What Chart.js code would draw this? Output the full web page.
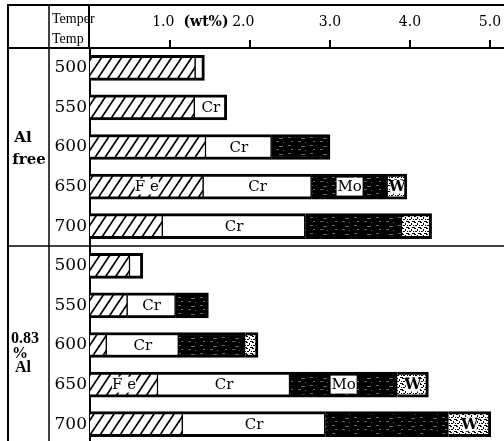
<!DOCTYPE html>
<html><head><meta charset="utf-8">
<script src="https://cdn.jsdelivr.net/npm/chart.js@4.4.0/dist/chart.umd.min.js"></script>
<style>html,body{margin:0;padding:0;overflow:hidden;background:#fff;width:504px;height:441px}
#wrap{position:relative;width:504px;height:444px}</style>
</head><body><div id="wrap"><canvas id="c" width="504" height="444"></canvas></div>
<script>
const temps = ['500','550','600','650','700','500','550','600','650','700'];
const groupLabels = [['Al','free'],['0.83','%','Al']];
const tickValues = [1,2,3,4,5];
const tickLabels = ['1.0   ','2.0   ','3.0','4.0','5.0'];
const feVals = [1.32, 1.31, 1.45, 1.42, 0.91, 0.50, 0.47, 0.21, 0.85, 1.16];
const crVals = [0.11, 0.40, 0.82, 1.35, 1.78, 0.16, 0.60, 0.90, 1.65, 1.78];
const moVals = [0, 0, 0.73, 0.95, 1.21, 0, 0.41, 0.83, 1.34, 1.54];
const wVals  = [0, 0, 0, 0.24, 0.37, 0, 0, 0.16, 0.39, 0.53];
const feLabels = ['', '', '', 'Fe', '', '', '', '', 'Fe', ''];
const crLabels = ['', 'Cr', 'Cr', 'Cr', 'Cr', '', 'Cr', 'Cr', 'Cr', 'Cr'];
const moLabels = ['', '', '', 'Mo', '', '', '', '', 'Mo', ''];
const wLabels  = ['', '', '', 'W', '', '', '', '', 'W', 'W'];

function mk(w,h){const c=document.createElement('canvas');c.width=w;c.height=h;return c;}
function hatchPattern(ctx){
  const c=mk(10,15),g=c.getContext('2d');
  g.fillStyle='#fff';g.fillRect(0,0,10,15);
  g.strokeStyle='#000';g.lineWidth=1.7;
  for(const dx of [-10,0,10]){g.beginPath();g.moveTo(dx-1.33,17);g.lineTo(dx+11.33,-2);g.stroke();}
  return ctx.createPattern(c,'repeat');
}
function moPattern(ctx){
  const c=mk(22,8),g=c.getContext('2d');
  g.fillStyle='#000';g.fillRect(0,0,22,8);
  g.fillStyle='#666';
  [[2,1,3,1],[15,2,4,1],[5,5,2,1],[12,5,3,1],[19,6,1,1]].forEach(r=>g.fillRect(...r));
  return ctx.createPattern(c,'repeat');
}
function wPattern(ctx){
  const c=mk(6,6),g=c.getContext('2d');
  g.fillStyle='#fff';g.fillRect(0,0,6,6);
  g.fillStyle='#000';
  [[0,0,2,1],[3,1,1,2],[5,3,1,1],[1,3,2,1],[4,5,2,1],[0,5,1,1]].forEach(r=>g.fillRect(...r));
  return ctx.createPattern(c,'repeat');
}
const canvas=document.getElementById('c');
const cx=canvas.getContext('2d');
const allVals=[feVals,crVals,moVals,wVals];
const nz=a=>a.map(v=>v>0?v:null);
function bw(ctx){
  const i=ctx.dataIndex,d=ctx.datasetIndex;
  let last=true;
  for(let k=d+1;k<4;k++) if(allVals[k][i]>0) last=false;
  return {top:3,bottom:3,left:0,right:last?3:1.5};
}
const common={borderColor:'#000',borderWidth:bw,borderSkipped:false,barThickness:25};

const decor={
  id:'decor',
  afterDatasetsDraw(chart){
    const g=chart.ctx;
    const sets=[feLabels,crLabels,moLabels,wLabels];
    g.save();
    g.textAlign='center';g.textBaseline='middle';
    sets.forEach((lab,d)=>{
      const meta=chart.getDatasetMeta(d);
      meta.data.forEach((el,i)=>{
        const t=lab[i]; if(!t) return;
        const p=el.getProps(['x','y','base'],true);
        const mx=(p.x+p.base)/2, my=p.y;
        if(d===0){g.fillStyle='#fff';g.fillRect(mx-12,my-8,24,16);g.fillStyle='#000';g.font='15px "DejaVu Serif"';g.fillText('F e',mx,my+1);}
        else if(d===1){g.fillStyle='#000';g.font='15px "DejaVu Serif"';g.fillText('Cr',mx,my+1);}
        else if(d===2){g.fillStyle='#fff';g.fillRect(mx-13,my-9,26,18);g.fillStyle='#000';g.font='15px "DejaVu Serif"';g.fillText('Mo',mx,my+1);}
        else {g.fillStyle='#fff';g.fillRect(mx-7,my-7,14,14);g.fillStyle='#000';g.font='bold 15px "DejaVu Serif"';g.fillText('W',mx,my+1);}
      });
    });
    g.restore();
  },
  afterDraw(chart){
    const g=chart.ctx;
    g.save();
    g.strokeStyle='#000';
    const line=(x1,y1,x2,y2,w)=>{g.lineWidth=w;g.beginPath();g.moveTo(x1,y1);g.lineTo(x2,y2);g.stroke();};
    line(7,5,504,5,2);
    line(8,4,8,444,2);
    line(49,5,49,444,1.5);
    line(89,5,89,48,2);
    line(8,48,90,48,2);
    const yb=chart.scales.y;
    const sep=(yb.getPixelForValue(4)+yb.getPixelForValue(5))/2;
    line(8,sep,504,sep,1.5);
    g.fillStyle='#000';
    g.textBaseline='middle';g.textAlign='left';
    g.font='14px "Liberation Serif"';
    g.fillText('Temper',52,19);
    g.fillText('Temp',52,39);
    g.textAlign='center';
    g.font='bold 14px "DejaVu Serif"';
    g.fillText('(wt%)',206,22);
    const c1=(yb.getPixelForValue(0)+yb.getPixelForValue(4))/2;
    g.font='bold 15px "DejaVu Serif"';
    g.fillText(groupLabels[0][0],23,c1-9);
    g.fillText(groupLabels[0][1],29,c1+13);
    const c2=(yb.getPixelForValue(5)+yb.getPixelForValue(9))/2;
    g.font='bold 16px "Liberation Serif"';
    g.fillText(groupLabels[1][0],25,c2-6);
    g.fillText(groupLabels[1][1],20,c2+9);
    g.fillText(groupLabels[1][2],23,c2+23);
    g.restore();
  }
};

new Chart(canvas,{
  type:'bar',
  data:{labels:temps,datasets:[
    Object.assign({label:'Fe',data:nz(feVals),backgroundColor:hatchPattern(cx)},common),
    Object.assign({label:'Cr',data:nz(crVals),backgroundColor:'#fff'},common),
    Object.assign({label:'Mo',data:nz(moVals),backgroundColor:moPattern(cx)},common),
    Object.assign({label:'W',data:nz(wVals),backgroundColor:wPattern(cx)},common)
  ]},
  options:{
    indexAxis:'y',responsive:false,animation:false,devicePixelRatio:1,
    layout:{padding:0},
    plugins:{legend:{display:false},tooltip:{enabled:false}},
    scales:{
      x:{position:'top',stacked:true,min:0,max:5.175,
        afterBuildTicks:s=>{s.ticks=tickValues.map(v=>({value:v}));},
        afterFit:s=>{s.height=48;s.paddingLeft=0;s.paddingRight=0;},
        grid:{drawOnChartArea:false,drawTicks:true,tickLength:8,color:'#000',lineWidth:2},
        border:{display:true,color:'#000',width:2},
        ticks:{color:'#000',font:{family:'DejaVu Serif',size:14},padding:9,maxRotation:0,autoSkip:false,
          callback:(v,i)=>tickLabels[i]}},
      y:{stacked:true,
        afterFit:s=>{s.width=90;s.paddingTop=0;s.paddingBottom=0;},
        grid:{display:true,drawOnChartArea:false,drawTicks:false},
        border:{display:true,color:'#000',width:2},
        ticks:{color:'#000',font:{family:'DejaVu Serif',size:17},padding:3,autoSkip:false}}
    }
  },
  plugins:[decor]
});
</script></body></html>
